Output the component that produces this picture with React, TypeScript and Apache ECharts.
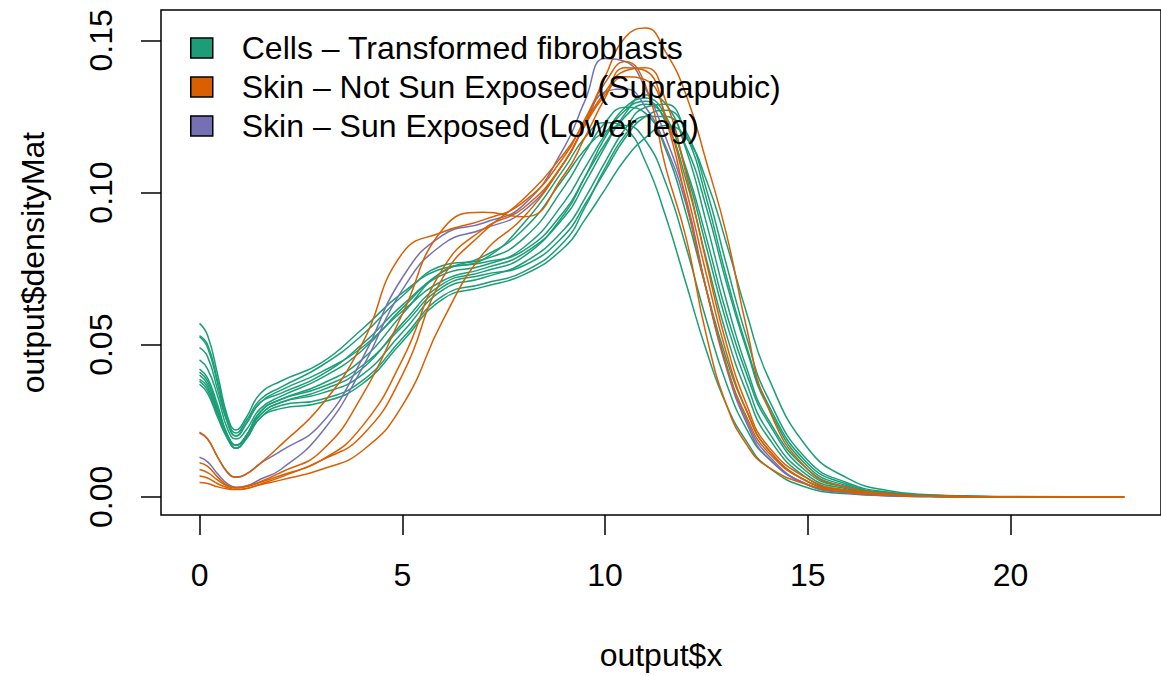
import React, { useEffect, useRef } from "react";
import * as echarts from "echarts";

const FONT = "'Liberation Sans', Arial, Helvetica, sans-serif";

const legendNames = [
  "Cells – Transformed fibroblasts",
  "Skin – Not Sun Exposed (Suprapubic)",
  "Skin – Sun Exposed (Lower leg)",
];
const groupColors = ["#1B9E77", "#D95F02", "#7570B3"];

const xTicks = [0, 5, 10, 15, 20];
const yTicks = [0, 0.05, 0.1, 0.15];

// x positions where each density curve is sampled
const xGrid = [0, 0.2, 0.45, 0.7, 0.9, 1.15, 1.5, 2, 3, 4, 5, 6, 7, 8, 9, 9.5, 10, 10.5, 11, 11.5, 12, 12.5, 13, 13.5, 14, 15, 16, 17, 18, 20, 22.8];

// Cells – Transformed fibroblasts
const cells1 = [0.045, 0.042, 0.033, 0.022, 0.019, 0.022, 0.029, 0.033, 0.039, 0.048, 0.062, 0.074, 0.079, 0.088, 0.105, 0.114, 0.120, 0.122, 0.117, 0.103, 0.082, 0.058, 0.037, 0.022, 0.013, 0.004, 0.0015, 0.0005, 0.0002, 0, 0];
const cells2 = [0.053, 0.050, 0.038, 0.025, 0.021, 0.025, 0.032, 0.036, 0.043, 0.053, 0.066, 0.076, 0.078, 0.085, 0.102, 0.113, 0.123, 0.128, 0.126, 0.114, 0.093, 0.068, 0.045, 0.028, 0.016, 0.005, 0.0018, 0.0006, 0.0002, 0, 0];
const cells3 = [0.0526, 0.049, 0.037, 0.024, 0.020, 0.024, 0.031, 0.034, 0.040, 0.050, 0.063, 0.073, 0.076, 0.082, 0.097, 0.108, 0.119, 0.128, 0.131, 0.125, 0.107, 0.082, 0.057, 0.037, 0.022, 0.007, 0.0025, 0.0008, 0.0003, 0, 0];
const cells4 = [0.049, 0.046, 0.035, 0.024, 0.020, 0.024, 0.031, 0.035, 0.041, 0.049, 0.061, 0.071, 0.075, 0.080, 0.092, 0.103, 0.115, 0.126, 0.132, 0.129, 0.114, 0.090, 0.064, 0.042, 0.026, 0.009, 0.003, 0.001, 0.0004, 0, 0];
const cells5 = [0.057, 0.053, 0.040, 0.026, 0.022, 0.026, 0.034, 0.038, 0.044, 0.055, 0.067, 0.075, 0.077, 0.081, 0.094, 0.105, 0.116, 0.125, 0.129, 0.124, 0.108, 0.085, 0.060, 0.040, 0.025, 0.008, 0.003, 0.001, 0.0003, 0, 0];
const cells6 = [0.042, 0.039, 0.030, 0.020, 0.017, 0.020, 0.027, 0.031, 0.034, 0.040, 0.054, 0.068, 0.072, 0.077, 0.088, 0.098, 0.110, 0.121, 0.128, 0.129, 0.119, 0.098, 0.072, 0.049, 0.031, 0.011, 0.004, 0.0013, 0.0005, 0, 0];
const cells7 = [0.041, 0.038, 0.029, 0.020, 0.017, 0.020, 0.028, 0.032, 0.036, 0.043, 0.056, 0.069, 0.073, 0.076, 0.086, 0.096, 0.107, 0.118, 0.125, 0.127, 0.120, 0.101, 0.076, 0.052, 0.033, 0.012, 0.0045, 0.0015, 0.0005, 0, 0];
const cells8 = [0.040, 0.037, 0.028, 0.019, 0.016, 0.020, 0.028, 0.032, 0.037, 0.045, 0.060, 0.074, 0.078, 0.090, 0.108, 0.118, 0.123, 0.121, 0.110, 0.092, 0.070, 0.048, 0.030, 0.018, 0.010, 0.003, 0.001, 0.0004, 0.0001, 0, 0];
const cells9 = [0.0386, 0.036, 0.027, 0.019, 0.016, 0.019, 0.026, 0.030, 0.032, 0.038, 0.052, 0.066, 0.070, 0.074, 0.084, 0.095, 0.108, 0.119, 0.125, 0.125, 0.115, 0.095, 0.070, 0.048, 0.030, 0.010, 0.0035, 0.0012, 0.0004, 0, 0];
const cells10 = [0.038, 0.035, 0.027, 0.020, 0.017, 0.020, 0.027, 0.031, 0.035, 0.042, 0.057, 0.070, 0.074, 0.079, 0.093, 0.105, 0.118, 0.127, 0.130, 0.123, 0.104, 0.078, 0.053, 0.034, 0.020, 0.006, 0.002, 0.0007, 0.0002, 0, 0];
const cells11 = [0.037, 0.034, 0.026, 0.019, 0.016, 0.019, 0.026, 0.029, 0.031, 0.037, 0.051, 0.065, 0.069, 0.073, 0.082, 0.091, 0.101, 0.111, 0.118, 0.122, 0.118, 0.104, 0.083, 0.060, 0.040, 0.016, 0.006, 0.002, 0.0007, 0.0001, 0];

// Skin – Not Sun Exposed (Suprapubic)
const notSun1 = [0.0213, 0.019, 0.013, 0.008, 0.0065, 0.0075, 0.011, 0.017, 0.030, 0.050, 0.080, 0.087, 0.091, 0.097, 0.112, 0.124, 0.136, 0.143, 0.135, 0.108, 0.085, 0.053, 0.030, 0.017, 0.010, 0.004, 0.0015, 0.0006, 0.0002, 0, 0];
const notSun2 = [0.0112, 0.010, 0.0065, 0.0037, 0.003, 0.0035, 0.005, 0.008, 0.015, 0.033, 0.060, 0.088, 0.0935, 0.092, 0.106, 0.118, 0.131, 0.141, 0.140, 0.124, 0.097, 0.068, 0.043, 0.026, 0.015, 0.005, 0.002, 0.0007, 0.0002, 0, 0];
const notSun3 = [0.009, 0.008, 0.0055, 0.0035, 0.003, 0.0033, 0.0048, 0.007, 0.012, 0.023, 0.045, 0.075, 0.088, 0.095, 0.110, 0.123, 0.138, 0.151, 0.154, 0.146, 0.132, 0.110, 0.086, 0.055, 0.030, 0.009, 0.003, 0.001, 0.0003, 0, 0];
const notSun4 = [0.0069, 0.0062, 0.0043, 0.003, 0.0025, 0.0028, 0.0042, 0.0065, 0.012, 0.020, 0.040, 0.072, 0.087, 0.098, 0.113, 0.123, 0.133, 0.140, 0.141, 0.130, 0.106, 0.077, 0.050, 0.030, 0.017, 0.006, 0.002, 0.0007, 0.0002, 0, 0];
const notSun5 = [0.0047, 0.0044, 0.0033, 0.0026, 0.0024, 0.0027, 0.004, 0.0055, 0.009, 0.015, 0.030, 0.058, 0.080, 0.092, 0.110, 0.122, 0.132, 0.138, 0.137, 0.125, 0.101, 0.073, 0.047, 0.028, 0.016, 0.005, 0.002, 0.0006, 0.0002, 0, 0];

// Skin – Sun Exposed (Lower leg)
const sun1 = [0.021, 0.019, 0.013, 0.0078, 0.0065, 0.0075, 0.011, 0.015, 0.024, 0.045, 0.072, 0.086, 0.090, 0.096, 0.115, 0.130, 0.144, 0.143, 0.134, 0.118, 0.098, 0.068, 0.042, 0.024, 0.013, 0.004, 0.0013, 0.0004, 0.0001, 0, 0];
const sun2 = [0.013, 0.0115, 0.0075, 0.0042, 0.0032, 0.0036, 0.0058, 0.009, 0.021, 0.042, 0.068, 0.083, 0.088, 0.094, 0.110, 0.122, 0.133, 0.134, 0.128, 0.115, 0.096, 0.068, 0.043, 0.025, 0.014, 0.004, 0.0014, 0.0004, 0.0001, 0, 0];

const cellsCurves = [cells1, cells2, cells3, cells4, cells5, cells6, cells7, cells8, cells9, cells10, cells11];
const notSunCurves = [notSun1, notSun2, notSun3, notSun4, notSun5];
const sunCurves = [sun1, sun2];

export default function App() {
  const ref = useRef<HTMLDivElement>(null);

  useEffect(() => {
    if (!ref.current) return;
    const chart = echarts.init(ref.current, undefined, { renderer: "svg" });

    const groups = [
      { name: legendNames[0], color: groupColors[0], curves: cellsCurves },
      { name: legendNames[2], color: groupColors[2], curves: sunCurves },
      { name: legendNames[1], color: groupColors[1], curves: notSunCurves },
    ];

    const series: any[] = [];
    groups.forEach((g) => {
      g.curves.forEach((c) => {
        series.push({
          type: "line",
          name: g.name,
          data: xGrid.map((x, i) => [x, c[i]]),
          smooth: 0.5,
          symbol: "none",
          silent: true,
          lineStyle: { color: g.color, width: 1.5 },
          itemStyle: { color: g.color },
        });
      });
    });

    const textBase = { color: "#000", fontFamily: FONT, fontSize: 32 };

    chart.setOption({
      animation: false,
      backgroundColor: "#fff",
      grid: {
        left: 161,
        top: 10,
        right: -11,
        bottom: 156,
        show: true,
        borderColor: "#000",
        borderWidth: 1.5,
        backgroundColor: "transparent",
      },
      legend: {
        show: true,
        orient: "vertical",
        left: 185,
        top: 27,
        itemWidth: 22,
        itemHeight: 20,
        itemGap: 7,
        icon: "rect",
        selectedMode: false,
        itemStyle: { borderColor: "#000", borderWidth: 1.5 },
        textStyle: { ...textBase, padding: [0, 0, 0, 24], lineHeight: 32 },
        data: legendNames.map((n, i) => ({ name: n, itemStyle: { color: groupColors[i] } })),
      },
      xAxis: {
        type: "value",
        min: -0.95,
        max: 23.71,
        axisLine: { show: false, onZero: false },
        splitLine: { show: false },
        axisTick: {
          show: true,
          length: 20,
          customValues: xTicks,
          lineStyle: { color: "#000", width: 1.5 },
        },
        axisLabel: {
          ...textBase,
          customValues: xTicks,
          margin: 44,
          formatter: (v: number) => String(v),
        },
        name: "output$x",
        nameLocation: "middle",
        nameGap: 124,
        nameTextStyle: textBase,
      },
      yAxis: {
        type: "value",
        min: -0.00595,
        max: 0.15995,
        axisLine: { show: false, onZero: false },
        splitLine: { show: false },
        axisTick: {
          show: true,
          length: 20,
          customValues: yTicks,
          lineStyle: { color: "#000", width: 1.5 },
        },
        axisLabel: {
          ...textBase,
          customValues: yTicks,
          rotate: 90,
          margin: 44,
          formatter: (v: number) => v.toFixed(2),
        },
        name: "output$densityMat",
        nameLocation: "middle",
        nameGap: 112,
        nameRotate: 90,
        nameTextStyle: textBase,
      },
      series,
    });

    return () => chart.dispose();
  }, []);

  return (
    <div
      ref={ref}
      style={{ position: "fixed", left: 0, top: 0, width: 1161, height: 676, background: "#fff" }}
    />
  );
}
